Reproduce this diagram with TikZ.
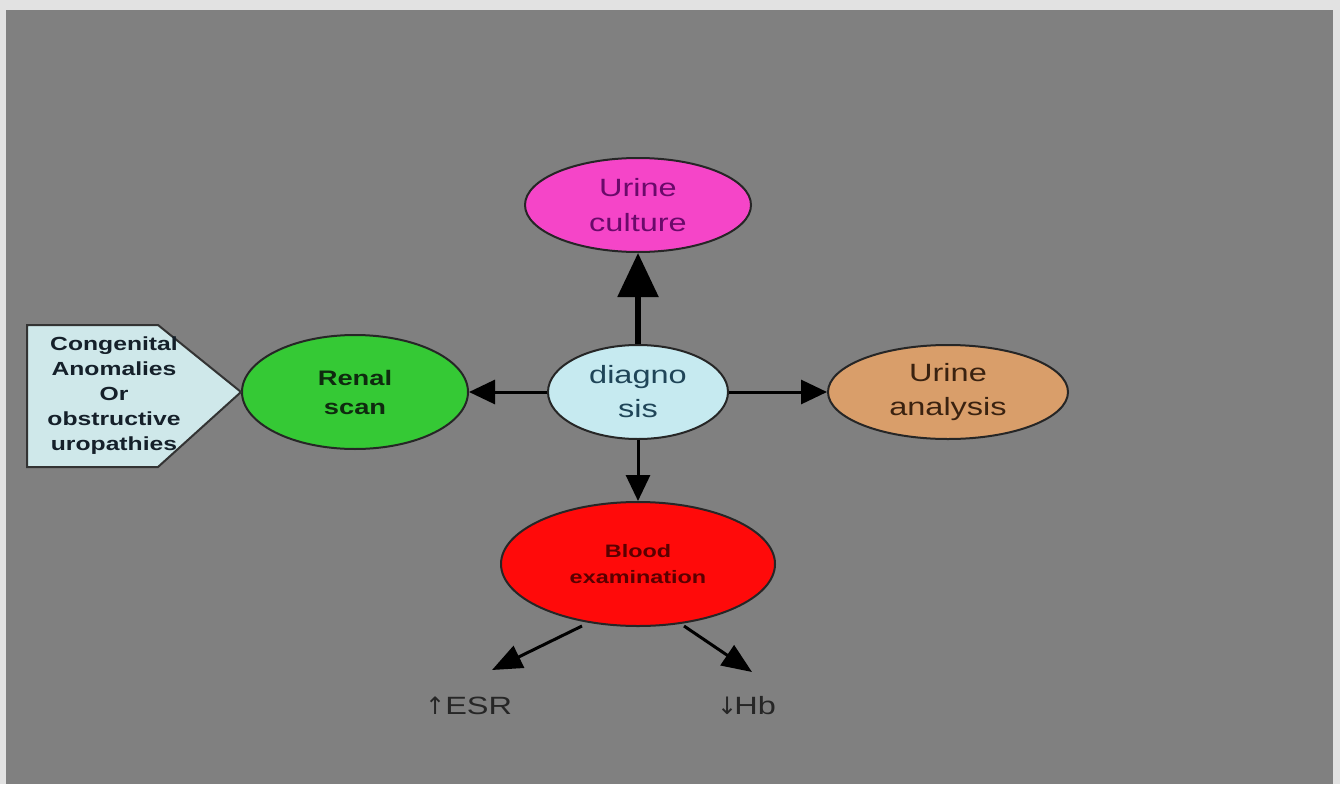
\documentclass[tikz,border=0pt]{standalone}
\usepackage{fontspec}
\setmainfont{Liberation Sans}[FakeStretch=1.3]
\newfontfamily\symfont{DejaVu Sans}
\usetikzlibrary{arrows.meta,shapes.geometric}

\definecolor{pagegray}{HTML}{808080}
\definecolor{framegray}{HTML}{E2E2E2}
\definecolor{cultfill}{HTML}{F545C8}
\definecolor{culttext}{HTML}{6A0A6A}
\definecolor{diagfill}{HTML}{C6EAF0}
\definecolor{diagtext}{HTML}{1F4558}
\definecolor{renalfill}{HTML}{35C935}
\definecolor{renaltext}{HTML}{0F2A0F}
\definecolor{anafill}{HTML}{D99E6A}
\definecolor{anatext}{HTML}{3A2210}
\definecolor{bloodfill}{HTML}{FF0A0A}
\definecolor{bloodtext}{HTML}{5A0000}
\definecolor{notefill}{HTML}{CFE8EA}
\definecolor{notetext}{HTML}{15202A}

\tikzset{
  bubble/.style={ellipse, draw=black!85, line width=2pt, align=center, inner sep=0pt},
  link/.style={draw=black, line width=3pt, -{Triangle[width=24pt,length=26pt]}},
  biglink/.style={draw=black, line width=5.5pt, -{Triangle[width=40pt,length=44pt]}},
  smalllink/.style={draw=black, line width=3pt, -{Triangle[width=24pt,length=30pt]}},
  lab/.style={text=black!85, font=\fontsize{25}{28}\selectfont, inner sep=0pt}
}

\begin{document}
\begin{tikzpicture}[x=1pt,y=-1pt]
  % frame and page
  \fill[framegray] (0,0) rectangle (1340,784);
  \fill[pagegray] (6,10) rectangle (1333,784);
  \useasboundingbox (0,0) rectangle (1340,784);

  % central node and the four examinations
  \node[bubble, fill=diagfill, text=diagtext, minimum width=180pt, minimum height=94pt,
        font=\fontsize{25}{34}\selectfont] (diag) at (638,392) {diagno\\sis};
  \node[bubble, fill=cultfill, text=culttext, minimum width=226pt, minimum height=94pt,
        font=\fontsize{25}{35}\selectfont] (cult) at (638,205) {Urine\\culture};
  \node[bubble, fill=renalfill, text=renaltext, minimum width=226pt, minimum height=114pt,
        font=\bfseries\fontsize{21}{29}\selectfont] (renal) at (355,392) {Renal\\scan};
  \node[bubble, fill=anafill, text=anatext, minimum width=240pt, minimum height=94pt,
        font=\fontsize{25}{34}\selectfont] (ana) at (948,392) {Urine\\analysis};
  \node[bubble, fill=bloodfill, text=bloodtext, minimum width=274pt, minimum height=124pt,
        font=\bfseries\fontsize{18}{26}\selectfont] (blood) at (638,564) {Blood\\examination};

  % pointer box feeding the renal scan
  \draw[fill=notefill, draw=black!80, line width=2pt]
    (27,325) -- (158,325) -- (241,392) -- (158,467) -- (27,467) -- cycle;
  \node[text=notetext, align=center, font=\bfseries\fontsize{19}{25}\selectfont, inner sep=0pt]
    (note) at (114,396) {Congenital\\Anomalies\\Or\\obstructive\\uropathies};

  % blood results
  \node[lab, anchor=base west] (esr) at (425,714) {{\symfont\fontsize{24}{26}\selectfont ↑}ESR};
  \node[lab, anchor=base west] (hb) at (717,714) {{\symfont\fontsize{24}{26}\selectfont ↓}\kern-3pt Hb};
  \coordinate (esrtip) at (492,670);
  \coordinate (hbtip) at (752,672);
  \coordinate (bl) at (582,626);
  \coordinate (br) at (684,626);

  % connectors
  \draw[biglink] (diag.north) -- (cult.south);
  \draw[link] (diag.west) -- (renal.east);
  \draw[link] (diag.east) -- (ana.west);
  \draw[link] (diag.south) -- (blood.north);
  \draw[smalllink] (bl) -- (esrtip);
  \draw[smalllink] (br) -- (hbtip);
\end{tikzpicture}
\end{document}
